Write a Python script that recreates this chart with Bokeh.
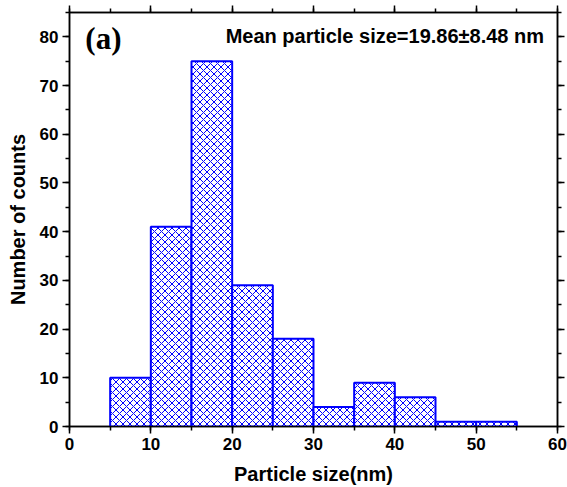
from bokeh.plotting import figure
from bokeh.models import LinearAxis, SingleIntervalTicker, Label, Range1d, CustomJSTickFormatter
from bokeh.embed import file_html
from bokeh.resources import INLINE

bin_left = [5, 10, 15, 20, 25, 30, 35, 40, 45, 50]
bin_right = [10, 15, 20, 25, 30, 35, 40, 45, 50, 55]
counts = [10, 41, 75, 29, 18, 4, 9, 6, 1, 1]

x_label = "Particle size(nm)"
y_label = "Number of counts"
panel_tag = "(a)"
mean_text = "Mean particle size=19.86\u00b18.48 nm"

p = figure(width=567, height=487, output_backend="svg", toolbar_location=None,
           x_range=Range1d(0, 60), y_range=Range1d(0, 85),
           min_border_left=69, min_border_right=10, min_border_top=12, min_border_bottom=61)
p.xgrid.visible = False
p.ygrid.visible = False
p.outline_line_color = "black"
p.outline_line_width = 1.5

p.quad(left=bin_left, right=bin_right, top=counts, bottom=0,
       fill_color="white", line_color="#0000FF", line_width=2,
       hatch_pattern="diagonal_cross", hatch_color="#0000FF", hatch_scale=7, hatch_weight=1)

font = "Liberation Sans"

def style(ax, labels=True):
    ax.ticker = SingleIntervalTicker(interval=10, num_minor_ticks=2)
    ax.axis_line_color = "black"
    ax.axis_line_width = 1.5
    ax.major_tick_line_width = 1.5
    ax.minor_tick_line_width = 1.5
    ax.major_tick_out = 7
    ax.major_tick_in = 0
    ax.minor_tick_out = 4
    ax.minor_tick_in = 0
    ax.major_label_text_font = font
    ax.major_label_text_font_style = "bold"
    ax.major_label_text_font_size = "17px"
    ax.major_label_text_color = "black"
    ax.major_label_standoff = 4
    ax.axis_label_text_font = font
    ax.axis_label_text_font_style = "bold"
    ax.axis_label_text_font_size = "20px"
    ax.axis_label_text_color = "black"
    if not labels:
        ax.formatter = CustomJSTickFormatter(code="return ''")
        ax.major_label_standoff = 0

style(p.xaxis[0])
style(p.yaxis[0])
p.xaxis[0].axis_label = x_label
p.yaxis[0].axis_label = y_label
p.xaxis[0].axis_label_standoff = 10
p.yaxis[0].axis_label_standoff = 8

top_ax = LinearAxis()
right_ax = LinearAxis()
style(top_ax, False)
style(right_ax, False)
p.add_layout(top_ax, "above")
p.add_layout(right_ax, "right")

p.add_layout(Label(x=1.95, y=76, text=panel_tag, text_font="Liberation Serif",
                   text_font_style="bold", text_font_size="31px", text_color="black"))
p.add_layout(Label(x=19.2, y=80.2, text=mean_text, text_font=font,
                   text_font_style="bold", text_font_size="20px", text_color="black",
                   text_baseline="middle"))

open("out.html", "w").write(file_html(p, INLINE))
